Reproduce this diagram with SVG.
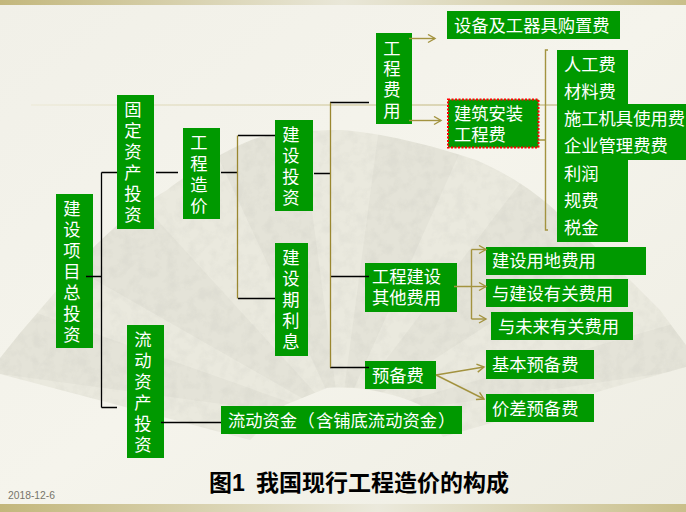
<svg xmlns="http://www.w3.org/2000/svg" width="686" height="512" viewBox="0 0 686 512">
<style>
text{font-family:"Liberation Sans","Noto Sans CJK SC",sans-serif;font-size:17.300px;fill:#fff}
.b{fill:#009900}
.k{stroke:#000;stroke-width:1.300;fill:none}
.g{stroke:#9a8730;stroke-width:1.300;fill:none}
.a{stroke:#a3933f;stroke-width:1.400;fill:none}
.v{text-anchor:middle}
.w{fill:#000;opacity:.022}
</style>
<defs>
<linearGradient id="band" x1="0" x2="1"><stop offset="0" stop-color="#c3b77c"/><stop offset=".5" stop-color="#e9e7d8"/><stop offset="1" stop-color="#c9bf8a"/></linearGradient>
<linearGradient id="band2" x1="0" x2="1"><stop offset="0" stop-color="#c3b77c"/><stop offset=".55" stop-color="#ebe9dc"/><stop offset="1" stop-color="#c9bf8a"/></linearGradient>
<linearGradient id="rule" x1="0" x2="1"><stop offset="0" stop-color="#efeddf"/><stop offset="1" stop-color="#d0c89c"/></linearGradient>
<linearGradient id="paper" x1="0" y1="0" x2="1" y2="1"><stop offset="0" stop-color="#f1f0e8"/><stop offset=".5" stop-color="#f5f4ec"/><stop offset="1" stop-color="#eeede3"/></linearGradient>
<marker id="arr" markerWidth="12" markerHeight="12" refX="8" refY="5" orient="auto" markerUnits="userSpaceOnUse"><path d="M1,1 L8,5 L1,9" fill="none" stroke="#a3933f" stroke-width="1.400"/></marker>
<filter id="mottle" x="0" y="0" width="100%" height="100%"><feTurbulence type="fractalNoise" baseFrequency="0.09" numOctaves="4" seed="4"/><feColorMatrix values="0 0 0 0 .62 0 0 0 0 .62 0 0 0 0 .56 3 0 0 0 -1.300"/></filter>
<clipPath id="fan"><path d="M0,374 L0,358 L20,333 L57,290 C95,240 130,212 167,190 C200,165 235,145 260,137 C290,131 320,130 343,130 C395,135 440,148 476,160 C500,170 535,190 560,215 C590,240 610,262 630,280 L660,310 L686,345 L686,367 L597,392 L443,437 L420,405 C390,392 360,386 327,388 L285,405 L250,440 Z"/></clipPath>
</defs>
<g id="background">
<rect width="686" height="512" fill="url(#paper)"/>
<g clip-path="url(#fan)">
<rect width="686" height="512" fill="#eae9de"/>
<rect width="686" height="512" filter="url(#mottle)" opacity=".2"/>
<path class="w" d="M340,420L0,300V374ZM340,420L130,190L60,260ZM340,420L300,120L210,140ZM340,420L470,130L380,120ZM340,420L620,240L530,170ZM340,420L686,370V320Z"/>
</g>
<rect x="0" y="0" width="686" height="5" fill="url(#band)"/>
<rect x="0" y="504" width="686" height="8" fill="url(#band2)"/>
<rect x="31" y="104" width="655" height="2" fill="url(#rule)"/>
</g>
<g id="n-total"><rect class="b" x="56" y="194" width="37" height="154"/><text class="v"><tspan x="72" y="215">建</tspan><tspan x="72" y="236">设</tspan><tspan x="72" y="257">项</tspan><tspan x="72" y="278">目</tspan><tspan x="72" y="299">总</tspan><tspan x="72" y="320">投</tspan><tspan x="72" y="341">资</tspan></text></g>
<g id="n-fixed"><rect class="b" x="117" y="95" width="37" height="134"/><text class="v"><tspan x="133" y="116">固</tspan><tspan x="133" y="137">定</tspan><tspan x="133" y="158">资</tspan><tspan x="133" y="179">产</tspan><tspan x="133" y="200">投</tspan><tspan x="133" y="221">资</tspan></text></g>
<g id="n-cost"><rect class="b" x="183" y="128" width="37" height="91"/><text class="v"><tspan x="199" y="149">工</tspan><tspan x="199" y="170">程</tspan><tspan x="199" y="191">造</tspan><tspan x="199" y="212">价</tspan></text></g>
<g id="n-build"><rect class="b" x="275" y="120" width="38" height="91"/><text class="v"><tspan x="291" y="141">建</tspan><tspan x="291" y="162">设</tspan><tspan x="291" y="183">投</tspan><tspan x="291" y="204">资</tspan></text></g>
<g id="n-interest"><rect class="b" x="275" y="243" width="33" height="113"/><text class="v"><tspan x="291" y="264">建</tspan><tspan x="291" y="285">设</tspan><tspan x="291" y="306">期</tspan><tspan x="291" y="327">利</tspan><tspan x="291" y="348">息</tspan></text></g>
<g id="n-current"><rect class="b" x="127" y="325" width="37" height="133"/><text class="v"><tspan x="143" y="346">流</tspan><tspan x="143" y="367">动</tspan><tspan x="143" y="388">资</tspan><tspan x="143" y="409">产</tspan><tspan x="143" y="430">投</tspan><tspan x="143" y="451">资</tspan></text></g>
<g id="n-liquid"><rect class="b" x="221" y="406" width="241" height="28"/><text y="427"><tspan x="228">流动资金</tspan><tspan x="297.500">（</tspan><tspan x="316">含铺底流动资金</tspan><tspan x="438">）</tspan></text></g>
<g id="n-eng"><rect class="b" x="376" y="33" width="36" height="91"/><text class="v"><tspan x="392" y="55">工</tspan><tspan x="392" y="75">程</tspan><tspan x="392" y="96">费</tspan><tspan x="392" y="117">用</tspan></text></g>
<g id="n-equip"><rect class="b" x="447" y="11" width="173" height="28"/><text x="454" y="32">设备及工器具购置费</text></g>
<g id="n-install"><rect x="448" y="99.500" width="90.500" height="48" class="b" stroke="#f00" stroke-width="2" stroke-dasharray="2 1.500"/><text><tspan x="454" y="120">建筑安装</tspan><tspan x="454" y="141">工程费</tspan></text></g>
<g id="n-items"><path class="b" d="M557,50H628V104H686V160H628V242H557Z"/><text><tspan x="564" y="71">人工费</tspan><tspan x="564" y="98">材料费</tspan><tspan x="564" y="125">施工机具使用费</tspan><tspan x="564" y="152">企业管理费费</tspan><tspan x="564" y="180">利润</tspan><tspan x="564" y="207">规费</tspan><tspan x="564" y="234">税金</tspan></text></g>
<g id="n-other"><rect class="b" x="365" y="263" width="92" height="49"/><text><tspan x="372" y="283">工程建设</tspan><tspan x="372" y="304">其他费用</tspan></text></g>
<g id="n-land"><rect class="b" x="486" y="247" width="160" height="28"/><text x="492" y="267">建设用地费用</text></g>
<g id="n-related"><rect class="b" x="486" y="279" width="142" height="28"/><text x="492" y="300">与建设有关费用</text></g>
<g id="n-future"><rect class="b" x="491" y="312" width="142" height="28"/><text x="498" y="333">与未来有关费用</text></g>
<g id="n-reserve"><rect class="b" x="365" y="361" width="71" height="28"/><text x="372" y="382">预备费</text></g>
<g id="n-basic"><rect class="b" x="486" y="350" width="108" height="29"/><text x="492" y="371">基本预备费</text></g>
<g id="n-price"><rect class="b" x="486" y="394" width="108" height="28"/><text x="492" y="415">价差预备费</text></g>
<g id="connectors">
<path class="k" d="M86,276.500H101.500M101.500,172.500V407.500M101.500,172.500H117M101.500,407.500H117"/>
<path class="k" d="M156,172.500H178M221,172.500H237.500M238,135.500H275M238,298.500H275M314,173.500H330.500M330,102.500H369M330,276.500H369M330,367.500H369M161,422.500H221"/>
<path class="g" d="M237.500,135.500V298.500M330.500,102.500V367.500"/>
<path class="a" marker-end="url(#arr)" d="M409,38.500H435"/>
<path class="a" marker-end="url(#arr)" d="M409,120.500H441"/>
<path class="a" d="M539,140H545.500M548,50H545.500V230H548"/>
<path class="a" d="M454,286.500H471.500M471.500,249.500V319"/>
<path class="a" marker-end="url(#arr)" d="M471.500,249.500H486"/>
<path class="a" marker-end="url(#arr)" d="M471.500,286.500H486"/>
<path class="a" marker-end="url(#arr)" d="M471.500,319H486"/>
<path class="a" marker-end="url(#arr)" d="M436,375L484,367"/>
<path class="a" marker-end="url(#arr)" d="M436,375L484,399"/>
</g>
<text y="491" style="font-size:23px;font-weight:700;fill:#000"><tspan x="209">图1</tspan><tspan x="256">我国现行工程造价的构成</tspan></text>
<text x="8" y="499" style="font-size:10.300px;fill:#77756a">2018-12-6</text>
</svg>
